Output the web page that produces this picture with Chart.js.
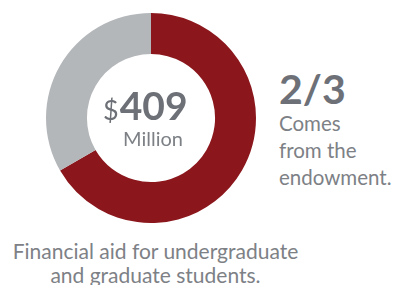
<!DOCTYPE html>
<html>
<head>
<meta charset="utf-8">
<script src="https://cdn.jsdelivr.net/npm/chart.js@4"></script>
<style>
  body { margin: 0; background: #fff; width: 401px; height: 285px; overflow: hidden; position: relative; font-family: Lato, "Open Sans", sans-serif; }
  #wrap { position: absolute; left: 46px; top: 13px; width: 210px; height: 210px; }
  .side { position: absolute; left: 279px; top: 68px; color: #7d8186; }
  .side .big { font-size: 41px; font-weight: bold; color: #6d7177; line-height: 42px; }
  .side .txt { font-size: 20.5px; line-height: 27px; }
  .foot { position: absolute; left: 0; width: 311px; top: 239px; text-align: center; color: #7d8186; font-size: 21px; line-height: 24px; }
</style>
</head>
<body>
<div id="wrap"><canvas id="canvas"></canvas></div>
<div class="side">
  <div class="big">2/3</div>
  <div class="txt">Comes<br>from the<br>endowment.</div>
</div>
<div class="foot">Financial aid for undergraduate<br>and graduate students.</div>
<script>
const labels = ['From the endowment', 'Other sources'];
const shares = [2, 1];
const colors = ['#8b171d', '#b4b7ba'];
const totalText = '409';

const ctx = document.getElementById('canvas');

// "$409 / Million" in the hole of the ring
const centerText = {
    id: 'centerText',
    afterDraw(chart) {
        const c = chart.ctx;
        const arc = chart.getDatasetMeta(0).data[0];
        const x = arc.x, y = arc.y;
        c.save();
        c.textBaseline = 'alphabetic';
        c.fillStyle = '#6d7177';
        const left = x - 48;
        c.font = '27px Lato, sans-serif';
        const w0 = c.measureText('$').width + 1;
        c.fillText('$', left, y + 2);
        c.font = 'bold 39px Lato, sans-serif';
        c.fillText(totalText, left + w0, y + 2);
        c.fillStyle = '#7d8186';
        c.font = '20px Lato, sans-serif';
        c.textAlign = 'center';
        c.fillText('Million', x + 2, y + 28);
        c.restore();
    }
};

new Chart(ctx, {
    type: 'doughnut',
    data: {
        labels: labels,
        datasets: [{
            data: shares,
            backgroundColor: colors,
            borderWidth: 0,
        }]
    },
    options: {
        responsive: true,
        maintainAspectRatio: false,
        animation: false,
        cutout: '61%',
        plugins: {
            legend: { display: false },
            tooltip: { enabled: false }
        }
    },
    plugins: [centerText]
});
</script>
</body>
</html>
